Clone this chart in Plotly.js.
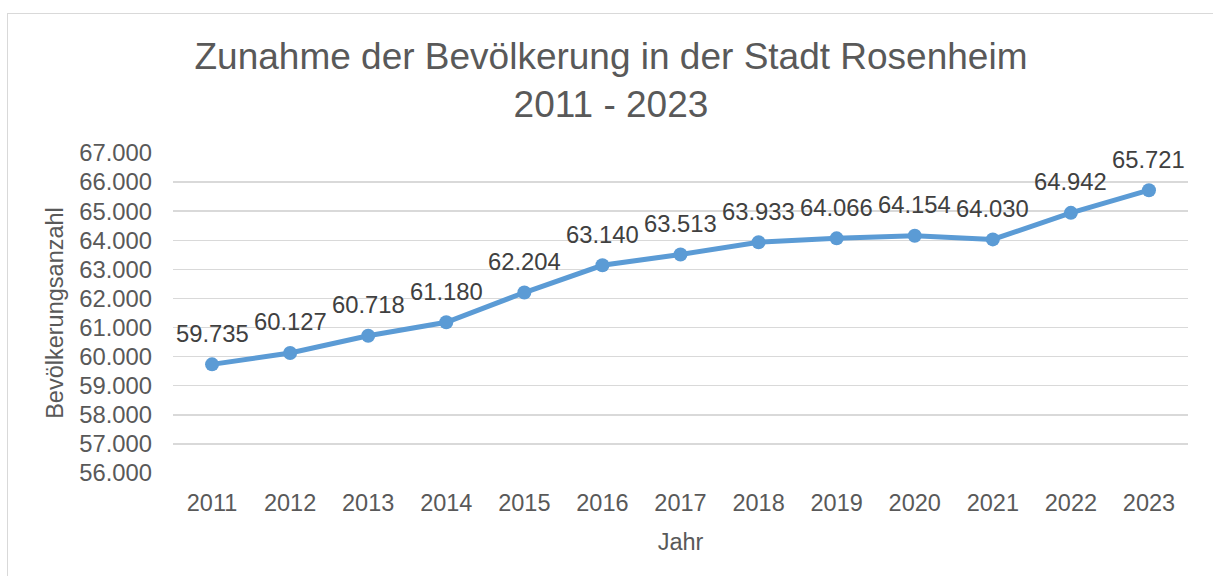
<!DOCTYPE html>
<html>
<head>
<meta charset="utf-8">
<script src="https://cdn.plot.ly/plotly-3.0.1.min.js"></script>
<style>
html,body{margin:0;padding:0;background:#fff;}
#chart{width:1213px;height:576px;position:absolute;left:0;top:0;}
#frame{position:absolute;left:7px;top:13px;width:1220px;height:600px;border:1px solid #d9d9d9;pointer-events:none;}
</style>
</head>
<body>
<div id="chart"></div>
<div id="frame"></div>
<script>
const years = ['2011','2012','2013','2014','2015','2016','2017','2018','2019','2020','2021','2022','2023'];
const population = [59735, 60127, 60718, 61180, 62204, 63140, 63513, 63933, 64066, 64154, 64030, 64942, 65721];
const titleText = 'Zunahme der Bevölkerung in der Stadt Rosenheim<br>2011 - 2023';
const xTitle = 'Jahr';
const yTitle = 'Bevölkerungsanzahl';

function fmt(v){
  const t = Math.floor(v/1000), r = v % 1000;
  return t + '.' + String(r).padStart(3,'0');
}

const FONT = '"Liberation Sans", Arial, sans-serif';
const xNum = years.map(Number);

const trace = {
  x: xNum,
  y: population,
  type: 'scatter',
  mode: 'lines+markers',
  line: {color: '#5B9BD5', width: 5},
  marker: {color: '#5B9BD5', size: 14},
  hoverinfo: 'skip'
};

const annotations = xNum.map((yr, i) => ({
  x: yr, y: population[i], xref: 'x', yref: 'y',
  text: fmt(population[i]),
  showarrow: false, xanchor: 'center', yanchor: 'middle', yshift: 31,
  font: {family: FONT, size: 23.8, color: '#404040'}
}));

const layout = {
  width: 1213, height: 576,
  margin: {l: 173, r: 25, t: 153, b: 103, pad: 0},
  paper_bgcolor: 'rgba(0,0,0,0)', plot_bgcolor: '#fff',
  separators: ',.',
  showlegend: false,
  font: {family: FONT, color: '#595959', size: 23.5},
  title: {
    text: titleText,
    font: {family: FONT, size: 37, color: '#595959'},
    xref: 'container', x: 0.5037, xanchor: 'center',
    yref: 'container', y: 1 - 69/576, yanchor: 'top'
  },
  xaxis: {
    type: 'linear',
    range: [xNum[0] - 0.5, xNum[xNum.length - 1] + 0.5],
    tickmode: 'array', tickvals: xNum, ticktext: years,
    showgrid: false, zeroline: false, showline: false,
    ticks: '', ticklabelstandoff: 13,
    tickfont: {family: FONT, size: 23.5, color: '#595959'},
    title: {text: xTitle, font: {family: FONT, size: 23.5, color: '#595959'}, standoff: 19}
  },
  yaxis: {
    range: [56000, 67000], dtick: 1000, tick0: 56000,
    tickformat: ',d',
    showgrid: true, gridcolor: '#d9d9d9', gridwidth: 1.4,
    zeroline: false, showline: false,
    ticks: '', ticklabelstandoff: 20,
    tickfont: {family: FONT, size: 23.8, color: '#595959'},
    title: {text: yTitle, font: {family: FONT, size: 23.5, color: '#595959'}, standoff: 8}
  },
  annotations: annotations
};

Plotly.newPlot('chart', [trace], layout, {staticPlot: true, displayModeBar: false});
</script>
</body>
</html>
